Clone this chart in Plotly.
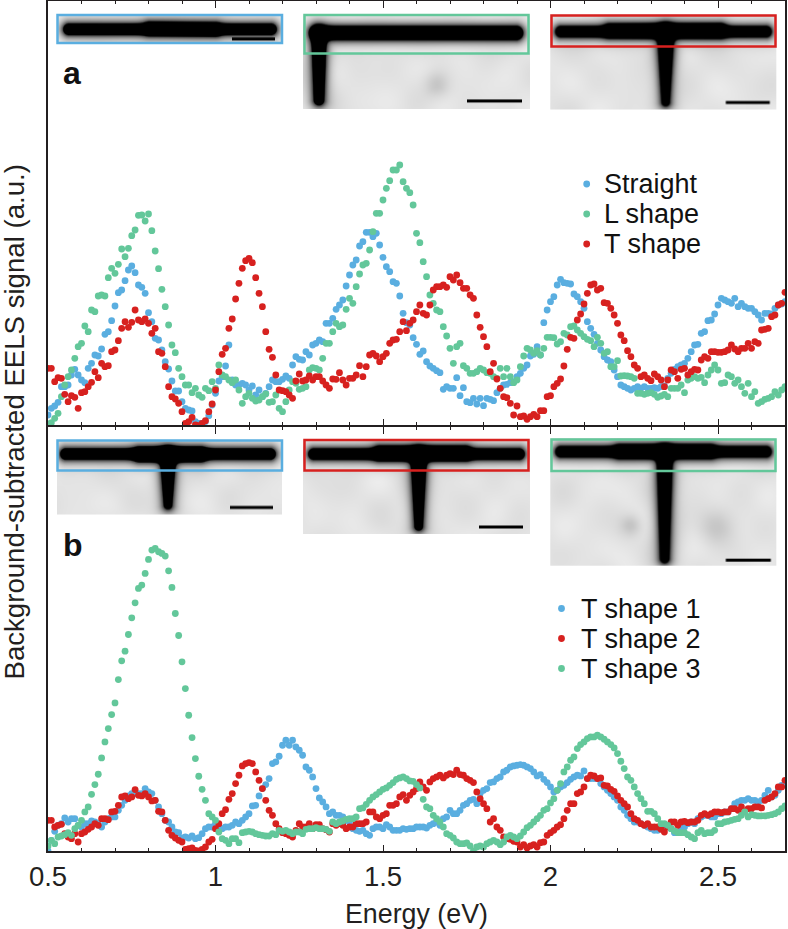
import base64, struct, zlib
import numpy as np
import plotly.graph_objects as go

# ---------- data (signal in arbitrary units, one reading per 0.01 eV) ----------
a_straight = [
32,52,59,70,117,117,122,152,169,152,
137,129,172,187,212,209,230,274,282,315,
359,399,407,435,467,479,459,422,415,397,
339,312,262,257,227,192,170,134,104,104,
72,52,47,44,12,7,7,12,30,62,
97,134,147,179,242,137,122,122,127,122,
107,119,92,107,87,97,117,137,132,132,
139,149,142,182,207,199,197,222,212,242,
247,257,252,307,307,322,349,362,377,419,
452,482,497,539,552,580,580,567,577,542,
505,477,462,432,427,389,337,309,302,264,
244,214,224,192,179,172,165,159,109,117,
112,112,144,90,114,72,69,82,65,82,
60,82,79,75,99,112,122,124,129,132,
147,157,172,182,209,214,237,212,309,347,
372,387,422,439,429,427,425,395,387,372,
352,312,292,274,247,227,207,197,192,167,
147,122,117,112,107,112,117,112,117,112,
112,114,112,117,119,142,157,169,177,182,
187,202,222,242,244,277,282,315,317,335,
362,382,377,372,367,382,357,367,357,352,
352,342,332,317,337,337,335,352,362,365,372]
a_lshape = [
5,9,22,37,87,122,147,167,202,237,
247,299,282,347,342,389,392,389,444,472,
457,484,530,507,532,570,587,631,632,614,
635,585,524,471,409,357,302,242,219,172,
147,122,122,99,112,92,85,112,105,132,
112,182,152,147,137,129,137,107,67,87,
97,82,74,77,87,95,70,72,92,52,
42,72,107,132,127,109,112,117,167,174,
172,167,202,247,247,282,307,297,302,349,
382,367,417,455,482,487,527,582,637,637,
677,712,735,767,767,782,732,712,699,662,
577,549,492,447,392,367,347,342,297,269,
232,187,237,247,180,172,157,157,162,172,
167,159,157,147,142,172,147,172,147,129,
137,177,209,232,227,217,225,212,232,265,
265,264,245,252,277,272,297,299,287,277,
267,259,255,237,265,247,217,222,177,177,
195,149,150,149,147,142,97,97,94,97,
99,94,85,89,94,87,112,112,112,122,
99,137,142,147,142,145,129,152,167,182,
167,127,129,152,147,127,137,117,97,127,
87,102,67,72,79,82,87,102,92,107,117]
a_tshape = [
172,172,132,144,142,94,72,90,85,52,
99,102,117,130,162,144,187,177,180,222,
227,255,292,312,295,310,347,317,312,320,
307,277,292,222,217,177,117,87,80,67,
42,7,12,25,2,0,7,15,42,65,
107,162,214,232,292,320,380,427,472,495,
502,489,444,397,357,282,229,205,152,107,
105,102,92,82,134,155,134,137,149,137,
147,147,134,122,112,140,139,159,137,122,
142,142,152,180,147,177,212,217,209,192,
207,217,247,257,259,282,312,285,307,317,
342,362,337,332,362,407,417,417,422,415,
447,437,452,429,412,412,392,382,332,295,
267,237,162,187,140,112,87,84,67,32,
59,27,29,19,27,34,27,45,45,87,
90,117,127,140,179,229,265,262,317,335,
365,397,422,425,407,412,369,367,352,332,
307,272,255,225,207,182,172,147,152,142,
135,155,147,137,117,137,167,162,142,169,
172,152,162,169,167,197,207,202,222,222,
220,220,222,227,242,230,222,232,232,247,
232,252,247,287,289,292,327,332,362,367,400]
b_tshape1 = [
0,32,59,77,82,99,87,97,97,77,
72,82,82,90,87,82,72,87,97,102,
102,122,137,152,165,172,172,172,172,187,
177,172,152,132,112,92,87,72,57,55,
39,42,39,45,37,40,52,67,72,72,
82,75,67,72,72,77,87,82,92,102,
112,135,137,165,187,199,217,262,267,284,
317,332,317,332,312,302,287,252,242,222,
187,159,147,132,112,117,107,107,102,92,
87,67,62,59,62,52,47,67,72,72,
67,79,72,62,62,62,67,65,67,67,
72,72,72,69,77,82,87,77,97,102,
122,112,112,122,137,142,152,155,142,172,
182,187,205,207,217,222,237,242,252,255,
257,259,257,252,247,237,225,229,215,205,
192,177,182,192,197,205,215,222,227,225,
240,217,217,217,217,202,192,182,172,162,
152,132,122,107,97,87,87,82,77,72,
67,62,62,77,72,77,67,55,55,67,
72,82,87,82,97,102,107,107,102,102,
112,112,117,117,127,142,147,152,152,157,
152,152,147,152,167,182,162,167,182,197,202]
b_tshape2 = [
92,92,72,77,80,52,42,37,52,27,
52,57,65,72,82,77,97,97,94,117,
119,137,162,165,157,162,184,167,165,172,
162,150,152,119,117,92,62,47,39,32,
27,5,7,9,2,0,5,12,27,35,
67,82,112,124,155,172,202,227,255,262,
265,262,237,212,187,152,122,107,82,67,
55,52,47,42,62,82,72,72,82,67,
79,79,67,64,57,82,77,82,77,67,
72,72,82,82,82,87,117,117,102,97,
107,112,137,137,142,162,169,152,167,177,
187,207,192,182,207,217,222,227,219,227,
232,229,242,229,227,217,212,205,177,157,
142,127,87,97,72,62,42,37,35,29,
27,12,19,9,15,19,12,25,27,47,
55,62,72,79,97,122,142,142,172,177,
192,217,227,225,217,219,197,195,185,179,
165,152,142,132,112,97,92,82,77,82,
72,72,72,65,57,72,87,87,77,87,
89,85,87,87,92,107,112,107,112,117,
117,115,117,117,127,127,122,132,119,127,
127,132,132,129,152,157,162,172,192,192,212]
b_tshape3 = [
15,32,22,42,45,49,55,47,67,77,
92,117,132,170,199,230,279,327,367,409,
444,514,570,599,649,699,744,787,797,832,
874,902,907,897,892,884,840,790,712,646,
567,487,407,340,277,224,185,152,112,102,
92,57,37,32,22,37,37,25,55,57,
59,57,52,49,47,45,45,52,49,62,
59,62,57,52,57,57,52,65,67,67,
70,67,67,65,59,87,82,87,90,95,
97,97,102,127,129,140,152,162,169,177,
185,189,197,205,215,219,222,217,210,209,
199,189,155,132,127,107,97,87,72,52,
47,39,27,22,22,24,15,0,12,15,
12,22,27,32,27,19,27,42,47,42,
37,45,57,70,77,87,97,107,122,127,
144,157,182,202,237,252,272,282,307,319,
327,337,342,342,347,342,335,327,319,309,
292,269,247,222,212,192,172,157,142,119,
119,112,97,82,82,77,67,60,55,55,
55,49,42,37,55,62,52,55,55,62,
82,82,87,89,92,95,97,107,117,102,
109,107,105,105,105,107,109,112,117,127,135]

x_ticks = [0.5, 1, 1.5, 2, 2.5]
x_labels = ["0.5", "1", "1.5", "2", "2.5"]

# ---------- styling ----------
W, H = 788, 929
BLUE, GREEN, RED = "#5AAEE0", "#63C79A", "#D7211F"
INK = "#231F20"
FONT = "Liberation Sans"
PLOT_L, PLOT_R, PLOT_T, PLOT_B = 48, 785, 1, 851
# axis lines sit just outside a panel, so these two make the shared line coincide
PANEL_A_BOTTOM, PANEL_B_TOP = 425, 427


def energies(values):
    return [round(0.5 + 0.01 * i, 2) for i in range(len(values))]


def fx(px):
    return px / W


def fy(py):
    return 1 - py / H


# ---------- micrograph insets (decorative, rendered to small PNGs) ----------
def png_uri(arr):
    h, w = arr.shape
    raw = b"".join(b"\x00" + arr[r].tobytes() for r in range(h))

    def chunk(tag, data):
        c = struct.pack(">I", len(data)) + tag + data
        return c + struct.pack(">I", zlib.crc32(tag + data) & 0xFFFFFFFF)

    blob = (b"\x89PNG\r\n\x1a\n"
            + chunk(b"IHDR", struct.pack(">IIBBBBB", w, h, 8, 0, 0, 0, 0))
            + chunk(b"IDAT", zlib.compress(raw, 9))
            + chunk(b"IEND", b""))
    return "data:image/png;base64," + base64.b64encode(blob).decode()


def segment_dist(X, Y, s):
    ax, ay, bx, by, ra, rb = s
    dx, dy = bx - ax, by - ay
    t = np.clip(((X - ax) * dx + (Y - ay) * dy) / (dx * dx + dy * dy), 0, 1)
    return np.hypot(X - (ax + t * dx), Y - (ay + t * dy)) - (ra + t * (rb - ra))


def inset(box, rect, segs, bar, phase=0.0, blobs=()):
    x0, y0, x1, y1 = box
    S = 2
    xs = x0 + (np.arange(int((x1 - x0) * S)) + 0.5) / S
    ys = y0 + (np.arange(int((y1 - y0) * S)) + 0.5) / S
    X, Y = np.meshgrid(xs, ys)
    ds = np.array([segment_dist(X, Y, s) for s in segs])
    # smooth minimum, so that junctions fillet instead of stepping
    k = 2.5
    d = -k * np.log(np.sum(np.exp(-ds / k), axis=0))
    mottled = (np.sin(X / 13 + phase) * np.cos(Y / 10 - phase)
               + 0.6 * np.sin(X / 7.3 + 0.7 * phase) * np.sin(Y / 11.7 + 1.9 * phase)
               + 0.5 * np.cos((X - 1.7 * Y) / 19 + phase)
               + 0.4 * np.sin((2.3 * X + Y) / 23 + 3 * phase))
    bg = 228 + 4 * mottled
    bg = np.where(Y < rect[3], 242 + 2 * mottled, bg)
    for (cx, cy, r) in blobs:
        bg = bg - 28 * np.exp(-((X - cx) ** 2 + (Y - cy) ** 2) / (r * r))
    core = np.clip((1.5 - d) / 3.0, 0, 1)
    halo = 0.6 * np.exp(-np.maximum(d, 0) / 4.0)
    img = bg * (1 - np.maximum(core, halo))
    bx0, bx1, by = bar
    img[(X >= bx0) & (X <= bx1) & (np.abs(Y - by) <= 1.5)] = 0
    return png_uri(np.clip(img, 0, 255).astype(np.uint8))


INSETS = [
    dict(box=(57, 14.5, 282, 43), rect=(57.5, 15, 282, 43), color=BLUE,
         segs=[(69, 29.3, 271, 29.3, 7, 7), (150, 28.5, 215, 29.5, 7, 7)],
         bar=(232, 275, 39), phase=0.3),
    dict(box=(303, 14.5, 530, 109), rect=(304.5, 15, 528.5, 53.5), color=GREEN,
         segs=[(317, 33, 516, 33, 8.5, 8.5), (319, 33, 319, 100, 9, 6.5)],
         bar=(467, 522, 101), phase=1.1, blobs=[(437, 85, 12)]),
    dict(box=(550.3, 14.5, 776.3, 109.5), rect=(551.5, 15.5, 775.5, 46.5), color=RED,
         segs=[(561, 31.7, 766, 31.7, 7, 7), (610, 30.5, 720, 30.5, 7.5, 8),
               (665.7, 32, 665.7, 102, 10, 5.5)],
         bar=(726, 770, 102.7), phase=2.2),
    dict(box=(57, 440, 282, 514.5), rect=(57.5, 440.5, 282, 470.5), color=BLUE,
         segs=[(66, 454, 270, 454, 7, 7), (140, 454.5, 200, 454.5, 8, 8),
               (168, 455, 168, 505, 9.5, 5.5)],
         bar=(230, 273, 507.7), phase=3.0),
    dict(box=(303, 439.7, 530, 534), rect=(304.5, 440, 528.5, 470.5), color=RED,
         segs=[(314, 454, 519, 454, 7, 7), (380, 453, 465, 453, 8, 8),
               (418.7, 455, 418.7, 526, 9.5, 5.5)],
         bar=(479, 523, 526.7), phase=4.1),
    dict(box=(550.3, 438.3, 776.3, 565.7), rect=(551.5, 439.5, 775.5, 471), color=GREEN,
         segs=[(561, 451.7, 766, 451.7, 7, 7), (620, 451.5, 710, 451.5, 7.5, 7.5),
               (664.7, 453, 664.7, 558, 9.5, 6)],
         bar=(726, 770.7, 560), phase=5.0, blobs=[(631, 525, 10), (716, 527, 17)]),
]

images, shapes = [], []
for it in INSETS:
    x0, y0, x1, y1 = it["box"]
    images.append(dict(source=inset(it["box"], it["rect"], it["segs"], it["bar"],
                                    it["phase"], it.get("blobs", ())),
                       xref="paper", yref="paper", x=fx(x0), y=fy(y0),
                       sizex=(x1 - x0) / W, sizey=(y1 - y0) / H,
                       sizing="stretch", xanchor="left", yanchor="top", layer="above"))
    rx0, ry0, rx1, ry1 = it["rect"]
    shapes.append(dict(type="rect", xref="paper", yref="paper",
                       x0=fx(rx0), x1=fx(rx1), y0=fy(ry0), y1=fy(ry1),
                       line=dict(color=it["color"], width=2.5), fillcolor="rgba(0,0,0,0)"))

# ---------- traces ----------
fig = go.Figure()
MARKER = 6.8


def add(values, name, color, axis):
    fig.add_trace(go.Scatter(
        x=energies(values), y=values, mode="markers", name=name,
        marker=dict(color=color, size=MARKER, line=dict(width=0)),
        xaxis="x" + axis, yaxis="y" + axis, showlegend=False))


add(a_straight, "Straight", BLUE, "")
add(a_lshape, "L shape", GREEN, "")
add(a_tshape, "T shape", RED, "")
add(b_tshape1, "T shape 1", BLUE, "2")
add(b_tshape2, "T shape 2", RED, "2")
add(b_tshape3, "T shape 3", GREEN, "2")

# empty traces so that the top-edge tick axes of both panels get drawn
for xa, ya in (("x3", "y"), ("x4", "y2")):
    fig.add_trace(go.Scatter(x=[None], y=[None], mode="markers", xaxis=xa, yaxis=ya,
                             showlegend=False, hoverinfo="skip"))

# hand-set keys: the reference's rows are tighter than a native legend allows
KEYS = [
    ("Straight", BLUE, 586.7, 604, 184), ("L shape", GREEN, 586.7, 604, 214),
    ("T shape", RED, 586.7, 604, 244),
    ("T shape 1", BLUE, 561.5, 581, 608.5), ("T shape 2", RED, 561.5, 581, 638.5),
    ("T shape 3", GREEN, 561.5, 581, 668.5),
]
annotations = [
    dict(text="Background-subtracted EELS signal (a.u.)", xref="paper", yref="paper",
         x=fx(14), y=fy(422.5), showarrow=False, textangle=-90,
         font=dict(family=FONT, size=27.6, color=INK), xanchor="center", yanchor="middle"),
    dict(text="<b>a</b>", xref="paper", yref="paper", x=fx(61), y=fy(73), showarrow=False,
         font=dict(family=FONT, size=32, color="#111111"), xanchor="left", yanchor="middle"),
    dict(text="<b>b</b>", xref="paper", yref="paper", x=fx(61), y=fy(545), showarrow=False,
         font=dict(family=FONT, size=32, color="#111111"), xanchor="left", yanchor="middle"),
]
for label, color, kx, tx, ky in KEYS:
    annotations.append(dict(text=label, xref="paper", yref="paper", x=fx(tx), y=fy(ky),
                            showarrow=False, xanchor="left", yanchor="middle",
                            xshift=-2, font=dict(family=FONT, size=27, color="#111111")))
    shapes.append(dict(type="circle", xref="paper", yref="paper",
                       x0=fx(kx - 3.4), x1=fx(kx + 3.4), y0=fy(ky + 3.4), y1=fy(ky - 3.4),
                       line=dict(width=0), fillcolor=color))

xbase = dict(range=[0.5, 2.7], domain=[fx(PLOT_L), fx(PLOT_R)], showgrid=False, zeroline=False,
             ticks="inside", ticklen=6.5, tickwidth=1, tickcolor=INK,
             tickvals=x_ticks, ticktext=x_labels,
             minor=dict(dtick=0.1, tick0=0.5, ticks="inside", ticklen=3, tickwidth=1, tickcolor=INK),
             tickfont=dict(family=FONT, size=27.5, color=INK))
xline = dict(showline=True, linecolor=INK, linewidth=2, mirror=True)
ybase = dict(showgrid=False, zeroline=False, showline=True, linecolor=INK,
             linewidth=2, mirror=True, ticks="", showticklabels=False)

fig.update_layout(
    width=W, height=H, margin=dict(l=0, r=0, t=0, b=0, pad=0, autoexpand=False), autosize=False,
    paper_bgcolor="white", plot_bgcolor="white", showlegend=False,
    font=dict(family=FONT, color=INK),
    xaxis=dict(xbase, **xline, anchor="y", showticklabels=False),
    yaxis=dict(ybase, anchor="x", range=[2, 1274], domain=[fy(PANEL_A_BOTTOM), fy(PLOT_T)]),
    xaxis2=dict(xbase, **xline, anchor="y2", showticklabels=True,
                title=dict(text="Energy (eV)", font=dict(family=FONT, size=26.8, color=INK), standoff=14)),
    yaxis2=dict(ybase, anchor="x2", range=[0, 1271], domain=[fy(PLOT_B), fy(PANEL_B_TOP)]),
    xaxis3=dict(xbase, anchor="y", overlaying="x", side="top", showline=False, showticklabels=False),
    xaxis4=dict(xbase, anchor="y2", overlaying="x2", side="top", showline=False, showticklabels=False),
    images=images, shapes=shapes, annotations=annotations,
)

fig.write_html("out.html", config=dict(displayModeBar=False),
               post_script="document.body.style.margin='0';")
